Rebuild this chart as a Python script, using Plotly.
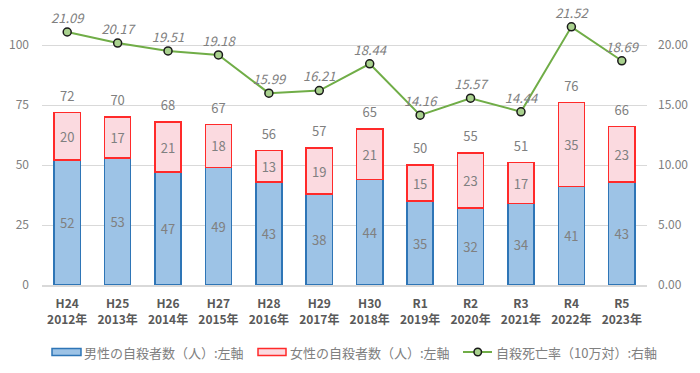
import plotly.graph_objects as go

categories = ["H24<br>2012年", "H25<br>2013年", "H26<br>2014年", "H27<br>2015年", "H28<br>2016年",
              "H29<br>2017年", "H30<br>2018年", "R1<br>2019年", "R2<br>2020年", "R3<br>2021年",
              "R4<br>2022年", "R5<br>2023年"]
male = [52, 53, 47, 49, 43, 38, 44, 35, 32, 34, 41, 43]
female = [20, 17, 21, 18, 13, 19, 21, 15, 23, 17, 35, 23]
rate = [21.09, 20.17, 19.51, 19.18, 15.99, 16.21, 18.44, 14.16, 15.57, 14.44, 21.52, 18.69]
totals = [m + f for m, f in zip(male, female)]

NAME_MALE = "男性の自殺者数（人）:左軸"
NAME_FEMALE = "女性の自殺者数（人）:左軸"
NAME_RATE = "自殺死亡率（10万対）:右軸"

FONT = "Noto Sans CJK JP"
GRAY = "#808080"
MALE_FILL, MALE_LINE = "#9DC3E6", "#2E75B6"
FEM_FILL, FEM_LINE = "#FBDAE0", "#FF2A2A"
RATE_LINE, RATE_FILL = "#70AD47", "#A9D18E"

W, H = 700, 373
ML, MR, MT, MB = 42, 53, 5, 88
PW, PH = W - ML - MR, H - MT - MB

fig = go.Figure()
fig.add_trace(go.Bar(
    x=categories, y=male, name=NAME_MALE,
    marker=dict(color=MALE_FILL, line=dict(color=MALE_LINE, width=1.5)),
    text=[str(v) for v in male], textposition="inside", insidetextanchor="middle",
    textfont=dict(color=GRAY, size=13, family=FONT), constraintext="none",
    width=0.52,
))
fig.add_trace(go.Bar(
    x=categories, y=female, name=NAME_FEMALE,
    marker=dict(color=FEM_FILL, line=dict(color=FEM_LINE, width=1.5)),
    text=[str(v) for v in female], textposition="inside", insidetextanchor="middle",
    textfont=dict(color=GRAY, size=13, family=FONT), constraintext="none",
    width=0.52,
))
fig.add_trace(go.Scatter(
    x=categories, y=totals, mode="markers+text", text=[str(v) for v in totals],
    marker=dict(size=12, opacity=0),
    textposition="top center", textfont=dict(color=GRAY, size=13, family=FONT),
    showlegend=False, hoverinfo="skip", cliponaxis=False,
))
fig.add_trace(go.Scatter(
    x=categories, y=rate, name=NAME_RATE, yaxis="y2",
    mode="lines+markers+text", text=[f"{v:.2f}" for v in rate],
    textposition="top center",
    textfont=dict(color=GRAY, size=13, family=FONT + ", sans-serif", style="italic"),
    line=dict(color=RATE_LINE, width=2),
    marker=dict(color=RATE_FILL, size=8, line=dict(color="#1a1a1a", width=1.5)),
    cliponaxis=False,
))


# custom legend (wide rectangle keys like the original)
def px(x):
    return (x - ML) / PW


def py(y):
    return (H - MB - y) / PH


LEG_Y = 352
shapes = [
    dict(type="rect", xref="paper", yref="paper", x0=px(52), x1=px(81), y0=py(355.5), y1=py(348.5),
         fillcolor=MALE_FILL, line=dict(color=MALE_LINE, width=1.5)),
    dict(type="rect", xref="paper", yref="paper", x0=px(258), x1=px(286), y0=py(355.5), y1=py(348.5),
         fillcolor=FEM_FILL, line=dict(color=FEM_LINE, width=1.5)),
    dict(type="line", xref="paper", yref="paper", x0=px(463), x1=px(492), y0=py(LEG_Y), y1=py(LEG_Y),
         line=dict(color=RATE_LINE, width=2)),
    dict(type="circle", xref="paper", yref="paper", x0=px(474), x1=px(481.5), y0=py(355.8), y1=py(348.2),
         fillcolor=RATE_FILL, line=dict(color="#1a1a1a", width=1.5)),
]
annotations = [
    dict(xref="paper", yref="paper", x=px(x0), y=py(LEG_Y), text=name, showarrow=False,
         xanchor="left", yanchor="middle", font=dict(color=GRAY, size=13, family=FONT))
    for x0, name in [(82, NAME_MALE), (288, NAME_FEMALE), (494, NAME_RATE)]
]

fig.update_layout(
    width=W, height=H, barmode="stack",
    margin=dict(l=ML, r=MR, t=MT, b=MB, autoexpand=False),
    paper_bgcolor="white", plot_bgcolor="white",
    font=dict(family=FONT, color=GRAY, size=12),
    xaxis=dict(range=[-0.5, 11.5], showline=True, linecolor="#d9d9d9", linewidth=1.5, ticks="",
               automargin=False,
               tickfont=dict(color="#595959", size=12, family=FONT, weight="bold"),
               ticklabelstandoff=7, fixedrange=True),
    yaxis=dict(range=[0, 116.7], tickvals=[0, 25, 50, 75, 100], showgrid=True,
               gridcolor="#d9d9d9", gridwidth=1, zeroline=False, automargin=False,
               tickfont=dict(color=GRAY, size=12, family=FONT), ticklabelstandoff=12),
    yaxis2=dict(range=[0, 23.34], tickvals=[0, 5, 10, 15, 20], overlaying="y", side="right",
                showgrid=False, zeroline=False, tickformat=".2f", automargin=False,
                tickfont=dict(color=GRAY, size=12, family=FONT), ticklabelstandoff=10),
    showlegend=False,
    shapes=shapes,
    annotations=annotations,
)

fig.write_html("out.html", config={"displayModeBar": False},
               post_script="document.body.style.margin='0';")
